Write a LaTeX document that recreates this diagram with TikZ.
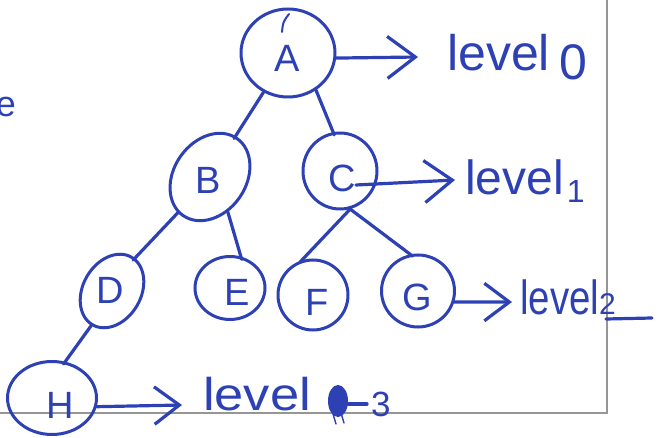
\documentclass[tikz,border=0pt]{standalone}
\usepackage{fontspec}
\setmainfont{Liberation Sans}
\usetikzlibrary{shapes.geometric,arrows.meta}
\definecolor{ink}{RGB}{45,65,180}
\definecolor{paperline}{RGB}{150,150,150}
\begin{document}
\begin{tikzpicture}[x=1pt,y=-1pt,
  pen/.style={draw=ink,line width=3.2pt,line cap=round,line join=round},
  vertex/.style={ellipse,draw=ink,line width=3pt,inner sep=0pt},
  letter/.style={text=ink,inner sep=0pt,font=\fontsize{38}{38}\selectfont},
  lvl/.style={text=ink,inner sep=0pt,anchor=base west},
  edge/.style={pen,shorten >=-3pt},
  levelarrow/.style={pen,-{Straight Barb[length=#1,width=1.5*#1,line width=3.2pt]}}]
\useasboundingbox (0,0) rectangle (659,438);

% ruled margin of the page
\draw[paperline,line width=1.8pt] (607,0) -- (607,413) -- (0,413);

% tree vertices
\node[vertex,minimum width=94pt,minimum height=88pt] (A) at (288,53) {};
\node[vertex,minimum width=94pt,minimum height=72pt,rotate=55] (B) at (210,177) {};
\node[vertex,minimum width=74pt,minimum height=76pt] (C) at (340,171) {};
\node[vertex,minimum width=78pt,minimum height=58pt,rotate=60] (D) at (112,291) {};
\node[vertex,minimum width=70pt,minimum height=63pt] (E) at (230,288) {};
\node[vertex,minimum width=70pt,minimum height=70pt] (F) at (313,295) {};
\node[vertex,minimum width=73pt,minimum height=72pt] (G) at (418,291) {};
\node[vertex,minimum width=89pt,minimum height=73pt] (H) at (52,398) {};

% vertex letters
\node[letter] (lA) at (287,58) {A};
\node[letter] (lB) at (208,180) {B};
\node[letter] (lC) at (342,178) {C};
\node[letter] (lD) at (110,290) {D};
\node[letter] (lE) at (237,292) {E};
\node[letter] (lF) at (317,302) {F};
\node[letter] (lG) at (417,297) {G};
\node[letter] (lH) at (60,405) {H};

% tree edges
\draw[edge] (A.238) -- (B.3);
\draw[edge] (A.307) -- (C.100);
\draw[edge] (B.173) -- (D.355);
\draw[edge] (B.242) -- (E.71);
\draw[edge] (C.285) -- (F.108);
\draw[edge] (C.285) -- (G.102);
\draw[edge] (D.179) -- (H.70);

% level labels
\node[lvl,font=\fontsize{50}{50}\selectfont] (L0) at (447,71) {level\hspace{9pt}\raisebox{-9pt}{0}};
\node[lvl,font=\fontsize{48}{48}\selectfont] (L1) at (465,195) {level\hspace{3pt}\raisebox{-8pt}{\fontsize{32}{32}\selectfont 1}};
\node[lvl,font=\fontsize{48}{48}\selectfont] (L2) at (520,315) {\scalebox{0.8}[1]{level}{\fontsize{30}{30}\selectfont 2}};
\node[lvl,font=\fontsize{46}{46}\selectfont] (L3) at (203,410) {\scalebox{1.14}[1]{level}};
\node[lvl,font=\fontsize{35}{35}\selectfont] (N3) at (371,417) {3};
\draw[pen] (606,319) -- (652,318);
\fill[ink] (338,401) ellipse (10pt and 16pt);
\draw[pen,line width=1.4pt] (333,414) -- (336,424) (341,413) -- (344,423);
\draw[pen] (348,404) -- (367,404);

% arrows pointing to the level labels
\coordinate (t0) at (418,57);
\coordinate (t1) at (455,180);
\coordinate (t2) at (512,302);
\coordinate (t3) at (182,405);
\draw[levelarrow=28pt] (A.354) -- (t0);
\draw[levelarrow=28pt] ([yshift=-7pt]lC.east) -- (t1);
\draw[levelarrow=25pt] (G.343) -- (t2);
\draw[levelarrow=25pt] (H.349) -- (t3);

% stray pen marks
\draw[pen,line width=2pt] (282,32) .. controls (283,22) .. (289,14);
\node[text=ink,inner sep=0pt,anchor=base,font=\fontsize{36}{36}\selectfont] (e) at (6,117) {e};
\end{tikzpicture}
\end{document}
